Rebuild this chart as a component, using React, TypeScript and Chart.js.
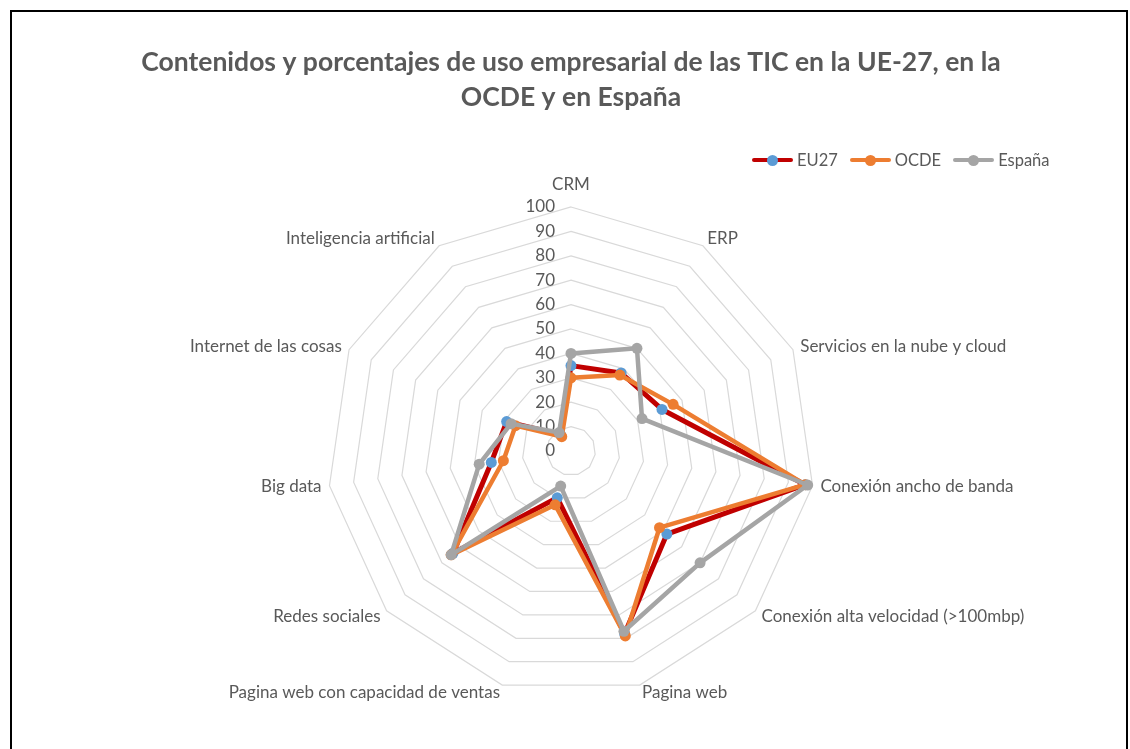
import React, { useEffect, useRef } from "react";
import { Chart, registerables } from "chart.js";

Chart.register(...registerables);

const CATEGORIES = [
  "CRM",
  "ERP",
  "Servicios en la nube y cloud",
  "Conexión ancho de banda",
  "Conexión alta velocidad (>100mbp)",
  "Pagina web",
  "Pagina web con capacidad de ventas",
  "Redes sociales",
  "Big data",
  "Internet de las cosas",
  "Inteligencia artificial",
];

const EU27 = [35, 38, 41, 97, 52, 78, 20, 64, 33, 29, 8];
const OCDE = [30, 37, 46, 97, 48, 79, 23, 65, 28, 25, 7];
const ESPANA = [40, 50, 32, 98, 70, 77, 15, 65, 38, 27, 9];

const TICK_VALUES = [0, 10, 20, 30, 40, 50, 60, 70, 80, 90, 100];

const TITLE_LINES = [
  "Contenidos y porcentajes de uso empresarial de las TIC en la UE-27, en la",
  "OCDE y en España",
];

const SERIES = [
  { name: "EU27", data: EU27, line: "#C00000", marker: "#5B9BD5", width: 5 },
  { name: "OCDE", data: OCDE, line: "#ED7D31", marker: "#ED7D31", width: 4.5 },
  { name: "España", data: ESPANA, line: "#A5A5A5", marker: "#A5A5A5", width: 4.5 },
];

const TEXT = "#595959";
const FONT = "Lato, 'Liberation Sans', sans-serif";

const labelPlugin = {
  id: "excelLabels",
  beforeDatasetsDraw(chart: any) {
    const scale = chart.scales.r;
    const ctx = chart.ctx as CanvasRenderingContext2D;
    ctx.save();
    ctx.fillStyle = TEXT;
    ctx.font = `17px ${FONT}`;
    ctx.textAlign = "right";
    ctx.textBaseline = "middle";
    scale.ticks.forEach((t: any) => {
      const d = scale.getDistanceFromCenterForValue(t.value);
      ctx.fillText(String(t.value), scale.xCenter - 16, scale.yCenter - d);
    });
    ctx.font = `17px ${FONT}`;
    const labels: string[] = chart.data.labels;
    const n = labels.length;
    for (let i = 0; i < n; i++) {
      const p = scale.getPointPosition(i, scale.drawingArea + 8);
      const deg = (360 * i) / n;
      if (deg === 0) {
        ctx.textAlign = "center";
        ctx.textBaseline = "alphabetic";
        ctx.fillText(labels[i], p.x, p.y - 9);
      } else {
        ctx.textAlign = deg < 180 ? "left" : "right";
        ctx.textBaseline = "middle";
        ctx.fillText(labels[i], p.x, p.y);
      }
    }
    ctx.restore();
  },
};

export default function App() {
  const ref = useRef<HTMLCanvasElement | null>(null);

  useEffect(() => {
    if (!ref.current) return;
    const chart = new Chart(ref.current, {
      type: "radar",
      data: {
        labels: CATEGORIES,
        datasets: SERIES.map((s, i) => ({
          label: s.name,
          data: s.data,
          borderColor: s.line,
          backgroundColor: s.line,
          borderWidth: s.width,
          borderJoinStyle: "round",
          fill: false,
          pointRadius: 5.5,
          pointBackgroundColor: s.marker,
          pointBorderColor: s.marker,
          pointBorderWidth: 0,
          order: SERIES.length - i,
        })),
      },
      options: {
        responsive: false,
        animation: false,
        layout: { padding: { left: 4, right: 0, top: 0, bottom: 54 } },
        plugins: {
          legend: { display: false },
          tooltip: { enabled: false },
          title: {
            display: true,
            text: TITLE_LINES,
            color: TEXT,
            font: { family: FONT, size: 26.5, weight: "bold", lineHeight: "35px" },
            padding: { top: 33, bottom: 92 },
          },
        },
        scales: {
          r: {
            min: 0,
            max: 100,
            afterBuildTicks: (s: any) => {
              s.ticks = TICK_VALUES.map((v) => ({ value: v }));
            },
            ticks: { display: false, stepSize: 10 },
            grid: { color: "#D9D9D9", lineWidth: 1.2 },
            angleLines: { display: false },
            pointLabels: { display: false },
          },
        },
      },
      plugins: [labelPlugin],
    });
    return () => chart.destroy();
  }, []);

  const legendItem = (s: (typeof SERIES)[number]) => (
    <div key={s.name} style={{ display: "flex", alignItems: "center", marginRight: 12 }}>
      <span style={{ position: "relative", width: 41, height: 11, display: "inline-block" }}>
        <span
          style={{
            position: "absolute",
            left: 0,
            right: 0,
            top: 3.5,
            height: 4,
            borderRadius: 2,
            background: s.line,
          }}
        />
        <span
          style={{
            position: "absolute",
            left: 15,
            top: 0,
            width: 11,
            height: 11,
            borderRadius: "50%",
            background: s.marker,
          }}
        />
      </span>
      <span style={{ marginLeft: 4, color: TEXT, fontSize: 16.5, fontFamily: FONT }}>{s.name}</span>
    </div>
  );

  return (
    <div
      style={{
        position: "absolute",
        left: 10,
        top: 10,
        width: 1114,
        height: 760,
        border: "2px solid #000",
        background: "#fff",
      }}
    >
      <canvas ref={ref} width={1114} height={737} style={{ display: "block" }} />
      <div
        style={{
          position: "absolute",
          left: 740,
          top: 137,
          height: 22,
          display: "flex",
          alignItems: "center",
        }}
      >
        {SERIES.map(legendItem)}
      </div>
    </div>
  );
}
